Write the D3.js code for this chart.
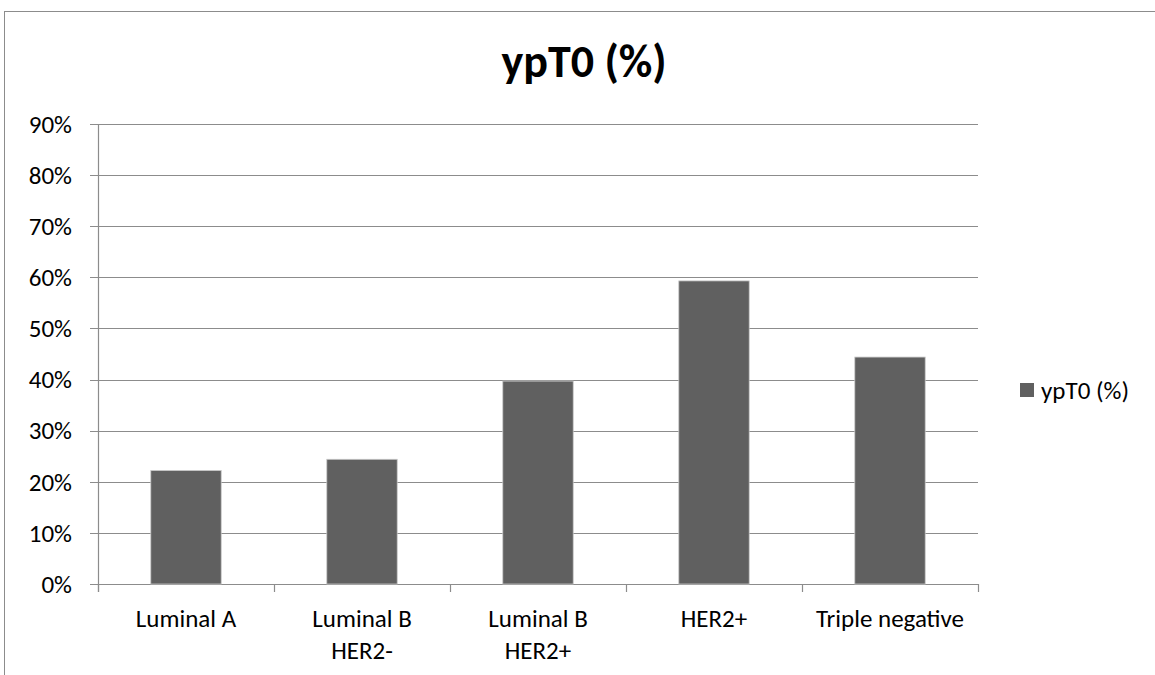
<!DOCTYPE html>
<html>
<head>
<meta charset="utf-8">
<script src="https://cdn.jsdelivr.net/npm/d3@7"></script>
<style>
  body { margin: 0; background: #fff; }
  text { font-family: Carlito, Calibri, Lato, "Open Sans", sans-serif; }
</style>
</head>
<body>
<div id="chart"></div>
<script>
// data
var categories = ['Luminal A', 'Luminal B\nHER2-', 'Luminal B\nHER2+', 'HER2+', 'Triple negative'];
var values = [0.222, 0.244, 0.397, 0.593, 0.444];
var yTicks = [0, 0.1, 0.2, 0.3, 0.4, 0.5, 0.6, 0.7, 0.8, 0.9];
var seriesName = 'ypT0 (%)';

function draw() {
  var width = 1155, height = 675;
  var margin = { top: 124, left: 98, right: 177, bottom: 91 };
  var innerW = width - margin.left - margin.right;
  var innerH = height - margin.top - margin.bottom;
  var fontSize = 25;

  var svg = d3.select('#chart')
    .append('svg')
    .attr('width', width)
    .attr('height', height);

  // outer chart border
  svg.append('rect')
    .attr('x', 4.5).attr('y', 11.5)
    .attr('width', 1200).attr('height', 700)
    .attr('fill', 'none')
    .attr('stroke', '#8c8c8c');

  svg.append('text')
    .attr('x', 584).attr('y', 77)
    .attr('text-anchor', 'middle')
    .attr('font-size', 46)
    .attr('font-weight', 'bold')
    .text(seriesName);

  var g = svg.append('g')
    .attr('transform', 'translate(' + margin.left + ',' + margin.top + ')');

  var x = d3.scaleBand()
    .domain(d3.range(categories.length))
    .range([0, innerW])
    .paddingInner(0.6)
    .paddingOuter(0.3);

  var y = d3.scaleLinear()
    .domain([0, 0.9])
    .range([innerH, 0]);

  // gridlines
  g.append('g')
    .selectAll('line')
    .data(yTicks)
    .join('line')
    .attr('x1', -8).attr('x2', innerW)
    .attr('y1', d => Math.round(y(d)) + 0.5)
    .attr('y2', d => Math.round(y(d)) + 0.5)
    .attr('stroke', '#8c8c8c')
    .attr('stroke-width', 1.2);

  // y labels
  g.append('g')
    .selectAll('text')
    .data(yTicks)
    .join('text')
    .attr('x', -26)
    .attr('y', d => y(d))
    .attr('dy', '0.35em')
    .attr('text-anchor', 'end')
    .attr('font-size', fontSize)
    .attr('fill', '#000')
    .text(d3.format('.0%'));

  // y axis line
  g.append('line')
    .attr('x1', 0.5).attr('x2', 0.5)
    .attr('y1', 0).attr('y2', innerH + 8)
    .attr('stroke', '#8c8c8c')
    .attr('stroke-width', 1.2);

  // x tick marks at category boundaries
  var step = innerW / categories.length;
  g.append('g')
    .selectAll('line')
    .data(d3.range(categories.length + 1))
    .join('line')
    .attr('x1', d => Math.round(d * step) + 0.5)
    .attr('x2', d => Math.round(d * step) + 0.5)
    .attr('y1', innerH).attr('y2', innerH + 8)
    .attr('stroke', '#8c8c8c')
    .attr('stroke-width', 1.2);

  // bars
  g.append('g')
    .selectAll('rect')
    .data(values)
    .join('rect')
    .attr('x', (d, i) => x(i))
    .attr('y', d => y(d))
    .attr('width', x.bandwidth())
    .attr('height', d => innerH - y(d))
    .attr('fill', '#606060')
    .attr('stroke', '#c8c8c8')
    .attr('stroke-width', 0.8);

  // x labels
  var labels = g.append('g')
    .selectAll('text')
    .data(categories)
    .join('text')
    .attr('text-anchor', 'middle')
    .attr('font-size', fontSize)
    .attr('fill', '#000')
    .attr('transform', (d, i) => 'translate(' + (x(i) + x.bandwidth() / 2) + ',' + (innerH + 43) + ')');

  labels.selectAll('tspan')
    .data(d => d.split('\n'))
    .join('tspan')
    .attr('x', 0)
    .attr('dy', (d, i) => i === 0 ? 0 : 32)
    .text(d => d);

  // legend
  var legend = svg.append('g')
    .attr('transform', 'translate(1020,383)');
  legend.append('rect')
    .attr('width', 14).attr('height', 14)
    .attr('fill', '#606060');
  legend.append('text')
    .attr('x', 21).attr('y', 7)
    .attr('dy', '0.35em')
    .attr('font-size', fontSize)
    .text(seriesName);
}

draw();
</script>
</body>
</html>
